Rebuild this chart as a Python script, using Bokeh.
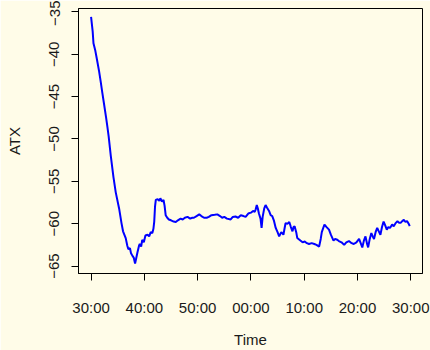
from bokeh.plotting import figure
from bokeh.models import Range1d, FixedTicker
from bokeh.embed import file_html
from bokeh.resources import INLINE

# minutes after the first tick (30:00)
minutes = [0.0, 0.3, 0.45, 0.8, 1.07, 1.5, 1.82, 2.1, 2.44, 2.8, 3.07, 3.3, 3.7, 4.2, 4.63,
           5.26, 5.7, 6.0, 6.5, 6.8, 7.0, 7.3, 7.5, 7.77, 8.0, 8.26, 8.5, 8.7, 9.0, 9.14,
           9.4, 9.6, 9.9, 10.2, 10.6, 10.9, 11.2, 11.5, 11.7, 11.85, 12.0, 12.15, 12.5, 12.8,
           13.0, 13.3, 13.6, 13.8, 14.0, 14.3, 14.6, 15.0, 15.5, 15.9, 16.3, 16.8, 17.2, 17.6,
           18.1, 18.6, 19.0, 19.3, 19.8, 20.3, 20.7, 21.2, 21.7, 22.1, 22.6, 23.2, 23.7, 24.2,
           24.6, 25.0, 25.5, 26.2, 26.6, 27.1, 27.6, 28.1, 28.6, 29.0, 29.5, 30.0, 30.4, 30.7,
           30.9, 31.1, 31.3, 31.5, 31.8, 32.0, 32.2, 32.5, 32.75, 33.0, 33.4, 33.7, 34.0, 34.3,
           34.65, 35.0, 35.3, 35.7, 36.1, 36.3, 36.5, 36.9, 37.2, 37.5, 37.8, 38.0, 38.2, 38.5,
           38.7, 39.1, 39.7, 40.1, 40.5, 40.9, 41.4, 41.9, 42.3, 42.8, 43.1, 43.3, 43.8, 44.2,
           44.65, 45.0, 45.5, 45.8, 46.2, 46.5, 47.0, 47.5, 47.9, 48.4, 48.9, 49.3, 49.8, 50.3,
           50.6, 50.9, 51.2, 51.5, 51.8, 52.0, 52.3, 52.6, 52.85, 53.1, 53.4, 53.7, 54.0, 54.3,
           54.6, 54.9, 55.2, 55.5, 55.8, 56.1, 56.5, 56.8, 57.2, 57.5, 57.8, 58.1, 58.4, 58.7,
           59.0, 59.3, 59.6, 59.8]
atx = [-35.6, -37.3, -38.7, -39.6, -40.5, -42.0, -43.3, -44.5, -45.9, -47.4, -48.6, -49.7, -52.0, -54.5, -56.3,
       -58.2, -59.9, -60.9, -61.7, -62.6, -63.0, -62.9, -63.5, -63.8, -64.0, -64.7, -64.0, -63.4, -62.6, -62.4,
       -62.7, -61.9, -62.2, -61.4, -61.3, -61.5, -61.0, -61.1, -60.6, -59.8, -58.0, -57.2, -57.1, -57.3,
       -57.0, -57.4, -57.2, -57.9, -59.0, -59.3, -59.5, -59.6, -59.75, -59.8, -59.6, -59.4, -59.5, -59.3,
       -59.2, -59.4, -59.3, -59.3, -59.1, -58.9, -59.1, -59.3, -59.3, -59.2, -59.0, -58.95, -58.9, -59.1,
       -59.3, -59.2, -59.4, -59.5, -59.2, -59.15, -59.3, -59.0, -59.1, -59.2, -58.8, -58.7, -58.5, -58.6,
       -58.3, -57.8, -58.2, -58.8, -59.4, -60.5, -59.2, -58.2, -57.8, -58.1, -58.5, -59.0, -59.1, -59.6,
       -60.5, -61.0, -61.5, -61.0, -61.3, -60.6, -59.95, -60.0, -59.8, -60.4, -60.9, -60.4, -60.3, -61.0,
       -61.7, -61.9, -62.2, -62.1, -62.3, -62.4, -62.3, -62.4, -62.5, -62.7, -61.8, -61.0, -60.1, -60.4,
       -60.7, -61.3, -62.0, -61.8, -61.9, -62.05, -62.2, -62.5, -62.2, -62.05, -62.3, -62.4, -62.2, -61.8,
       -62.3, -62.8, -62.0, -61.5, -62.4, -62.8, -61.8, -61.1, -61.5, -61.8, -61.0, -60.5, -60.9, -61.3,
       -60.4, -59.75, -60.2, -60.7, -60.4, -60.5, -60.1, -60.3, -59.9, -59.7, -59.9, -59.9, -59.7, -59.55,
       -59.8, -59.7, -60.0, -60.3]

x_ticks = [0, 10, 20, 30, 40, 50, 60]
x_tick_labels = ["30:00", "40:00", "50:00", "00:00", "10:00", "20:00", "30:00"]
y_ticks = [-35, -40, -45, -50, -55, -60, -65]

bg = "#FFFCE8"
font = "Liberation Sans"

p = figure(width=430, height=350, output_backend="svg", toolbar_location=None,
           x_range=Range1d(-2.36, 62.2), y_range=Range1d(-65.88, -34.6),
           min_border_left=78, min_border_right=8, min_border_top=8, min_border_bottom=70,
           background_fill_color=bg, border_fill_color=bg)

p.line(minutes, atx, line_color="#0000FF", line_width=2)

p.xgrid.visible = False
p.ygrid.visible = False
p.outline_line_color = "black"
p.outline_line_width = 1

p.xaxis.ticker = FixedTicker(ticks=x_ticks)
p.xaxis.major_label_overrides = {t: l for t, l in zip(x_ticks, x_tick_labels)}
p.yaxis.ticker = FixedTicker(ticks=y_ticks)
p.yaxis.major_label_orientation = "vertical"

for ax in (p.xaxis[0], p.yaxis[0]):
    ax.minor_tick_line_color = None
    ax.major_tick_in = 0
    ax.major_tick_out = 7
    ax.major_tick_line_color = "black"
    ax.axis_line_color = "black"
    ax.major_label_text_font = font
    ax.major_label_text_font_size = "15px"
    ax.major_label_text_color = "#1a1a1a"
    ax.axis_label_text_font = font
    ax.axis_label_text_font_size = "15px"
    ax.axis_label_text_font_style = "normal"
    ax.axis_label_text_color = "#1a1a1a"

p.xaxis.axis_label = "Time"
p.xaxis.major_label_standoff = 18
p.xaxis.axis_label_standoff = 12
p.yaxis.axis_label = "ATX"
p.yaxis.major_label_standoff = 12
p.yaxis.axis_label_standoff = 24

open("out.html", "w").write(file_html(p, INLINE))
